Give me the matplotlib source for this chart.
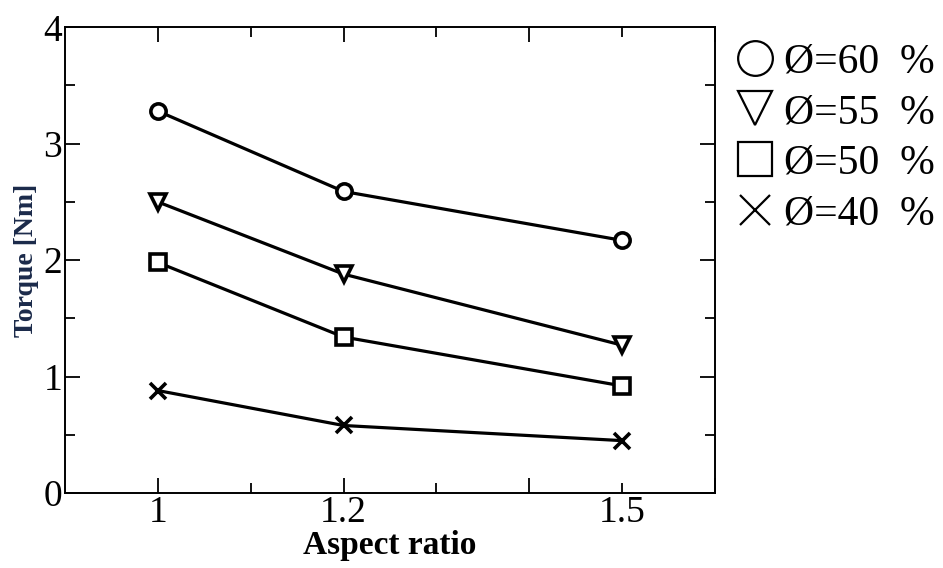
import matplotlib
matplotlib.use("Agg")
import matplotlib.pyplot as plt
from matplotlib.lines import Line2D

plt.rcParams['font.family'] = ['Liberation Serif', 'DejaVu Serif']

# torque against aspect ratio for each filling ratio
aspect_ratio = [1.0, 1.2, 1.5]
torque_60 = [3.28, 2.59, 2.17]
torque_55 = [2.50, 1.88, 1.27]
torque_50 = [1.98, 1.34, 0.92]
torque_40 = [0.88, 0.58, 0.45]

series = [
    (torque_60, 'o', "Ø=60  %"),
    (torque_55, 'v', "Ø=55  %"),
    (torque_50, 's', "Ø=50  %"),
    (torque_40, 'x', "Ø=40  %"),
]

fig = plt.figure(figsize=(9.43, 5.68), dpi=100)
ax = fig.add_axes([0.069, 0.132, 0.689, 0.820])

handles = []
for vals, mk, lab in series:
    ax.plot(aspect_ratio, vals, color='black', lw=2.3, marker=mk,
            ms=11 if mk != 'x' else 12, mfc='white', mec='black', mew=2.6,
            zorder=3)
    handles.append(Line2D([], [], ls='none', marker=mk, ms=25 if mk != 'x' else 21,
                          mfc='none', mec='black', mew=1.6, label=lab))

ax.set_xlim(0.9, 1.6)
ax.set_ylim(0, 4)
ax.set_xticks([1.0, 1.2, 1.4, 1.6], labels=["1", "1.2", "", ""])
ax.set_xticks([1.1, 1.3, 1.5], labels=["", "", "1.5"], minor=True)
ax.set_yticks([0, 1, 2, 3, 4])
ax.set_yticks([0.5, 1.5, 2.5, 3.5], minor=True)

ax.tick_params(which='both', direction='in', top=True, right=True,
               width=1.3, labelsize=27, pad=2)
ax.tick_params(which='major', length=11)
ax.tick_params(which='minor', length=7)
ax.tick_params(axis='y', pad=2)
for sp in ax.spines.values():
    sp.set_linewidth(1.4)

ax.set_xlabel("Aspect ratio", fontsize=24, fontweight='bold', labelpad=0)
ax.set_ylabel("Torque [Nm]", fontsize=20, fontweight='bold', color='#1b2a4a',
              labelpad=3)

ax.legend(handles=handles, loc='upper left', bbox_to_anchor=(0.995, 1.02),
          frameon=False, fontsize=30, handlelength=0.9, handletextpad=0.25,
          labelspacing=0.29, borderaxespad=0.2)

fig.savefig("out.png", dpi=100)
